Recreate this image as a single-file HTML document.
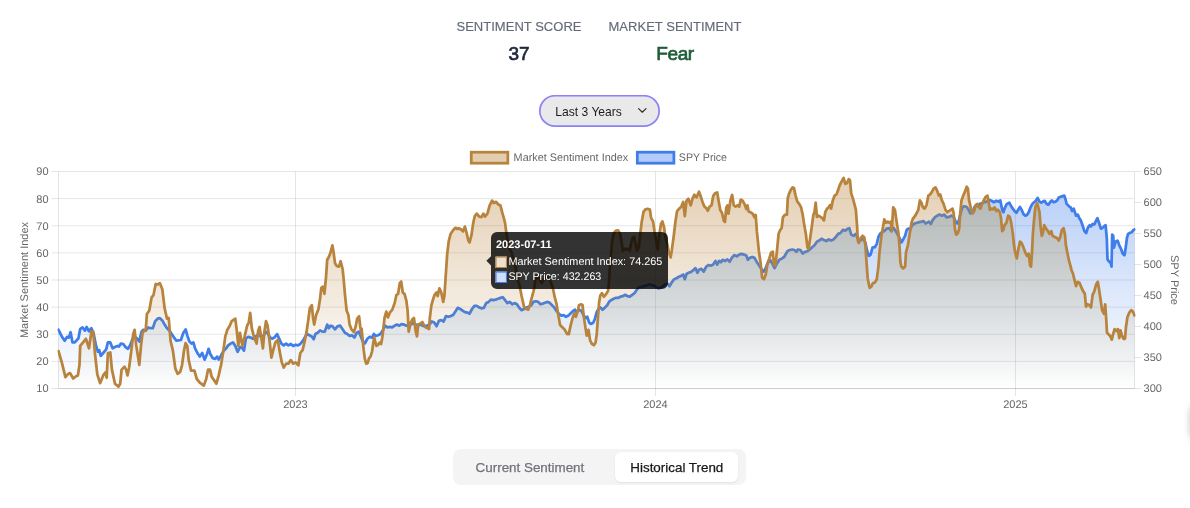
<!DOCTYPE html>
<html lang="en">
<head>
<meta charset="utf-8">
<title>Market Sentiment</title>
<style>
html,body{margin:0;padding:0;background:#fff;}
body{width:1190px;height:508px;position:relative;overflow:hidden;font-family:"Liberation Sans",Arial,sans-serif;}
.abs{position:absolute;white-space:nowrap;}
.lbl{font-size:13px;letter-spacing:0.02px;color:#636a78;-webkit-text-stroke:0.15px currentColor;line-height:16px;text-align:center;}
.val{font-size:19px;font-weight:normal;-webkit-text-stroke:0.7px currentColor;line-height:24px;text-align:center;}
.sel{left:539px;top:95px;width:121px;height:32px;}
.sel .bg{position:absolute;left:0;top:0;}
.sel span{position:absolute;left:16.3px;top:8.9px;font-size:12.1px;line-height:16px;color:#1c1c1e;}
.sel .chev{position:absolute;left:98.4px;top:11.6px;}
.tabs{left:453px;top:449px;width:293px;height:36px;border-radius:8px;background:#f4f4f5;}
.tab{font-size:13.4px;line-height:18px;-webkit-text-stroke:0.25px currentColor;}
.active{left:615px;top:452px;width:123px;height:30px;border-radius:6px;background:#fff;box-shadow:0 1px 2px rgba(0,0,0,0.08);}
.chart{position:absolute;left:0;top:0;}
.edge{left:1190px;top:406px;width:12px;height:33px;border-radius:6px;box-shadow:0 0 7px rgba(0,0,0,0.22);background:#fff;}
</style>
</head>
<body>
<div class="abs lbl" style="left:419px;width:200px;top:19px;">SENTIMENT SCORE</div>
<div class="abs val" style="left:419px;width:200px;top:42px;color:#1e293b;">37</div>
<div class="abs lbl" style="left:575px;width:200px;top:19px;">MARKET SENTIMENT</div>
<div class="abs val" style="left:575px;width:200px;top:42px;color:#1f5c38;letter-spacing:-0.4px;">Fear</div>
<div class="abs sel"><svg class="bg" width="121" height="32" viewBox="0 0 121 32"><rect x="0.85" y="0.75" width="119.3" height="30.4" rx="15.2" fill="#e9e9ea" stroke="#8a82f6" stroke-width="1.7"/></svg><span>Last 3 Years</span><svg class="chev" width="12" height="8" viewBox="0 0 12 8"><path d="M1.6,1.6L5.3,5.2L9,1.6" fill="none" stroke="#333" stroke-width="1.25" stroke-linecap="round" stroke-linejoin="round"/></svg></div>
<svg class="chart" width="1190" height="508" viewBox="0 0 1190 508">
<defs>
<linearGradient id="go" gradientUnits="userSpaceOnUse" x1="0" y1="171.5" x2="0" y2="388.5"><stop offset="0" stop-color="rgb(184,131,60)" stop-opacity="0.4"/><stop offset="1" stop-color="rgb(184,131,60)" stop-opacity="0"/></linearGradient>
<linearGradient id="gb" gradientUnits="userSpaceOnUse" x1="0" y1="171.5" x2="0" y2="388.5"><stop offset="0" stop-color="rgb(62,125,234)" stop-opacity="0.4"/><stop offset="1" stop-color="rgb(62,125,234)" stop-opacity="0"/></linearGradient>
<linearGradient id="gt" gradientUnits="userSpaceOnUse" x1="0" y1="171.5" x2="0" y2="388.5"><stop offset="0" stop-color="rgb(60,255,170)" stop-opacity="0.045"/><stop offset="1" stop-color="rgb(60,255,170)" stop-opacity="0"/></linearGradient>
<clipPath id="cb"><path d="M58.5,329.8 L61.8,336.4 L64.7,340.7 L67.0,336.9 L68.9,337.6 L70.6,332.2 L72.5,342.4 L74.8,342.4 L78.4,338.4 L80.2,328.9 L82.6,327.5 L85.0,330.6 L86.6,327.0 L89.0,331.2 L91.4,328.2 L93.7,334.1 L96.1,345.9 L98.0,351.8 L99.2,350.2 L100.8,355.8 L103.2,353.0 L106.2,349.4 L107.9,342.4 L110.3,342.4 L112.6,348.3 L115.0,347.1 L117.4,345.9 L119.0,346.6 L120.9,343.6 L123.3,344.0 L125.6,347.1 L128.0,348.8 L130.4,344.7 L132.7,338.4 L135.1,336.9 L137.4,338.8 L139.3,341.6 L141.5,331.7 L143.4,329.8 L145.7,330.6 L148.1,327.5 L150.4,328.2 L152.8,328.2 L155.2,321.1 L157.6,318.7 L159.9,318.2 L162.3,320.4 L164.6,324.6 L167.0,328.2 L169.4,330.6 L171.7,334.1 L174.1,337.6 L176.4,340.7 L180.9,340.0 L183.3,332.9 L185.6,329.4 L187.3,335.3 L189.2,341.2 L191.6,343.6 L193.4,342.4 L195.1,348.3 L197.4,353.0 L199.8,356.6 L202.2,353.0 L204.6,359.6 L206.9,354.2 L208.6,348.8 L210.4,354.2 L212.8,358.2 L215.2,358.9 L217.1,356.6 L218.7,359.6 L221.1,355.4 L223.4,351.1 L225.8,348.8 L228.2,345.4 L230.6,343.6 L232.9,342.4 L235.3,345.9 L237.6,351.8 L240.0,347.1 L242.4,348.3 L244.0,350.6 L245.9,338.4 L248.3,336.9 L250.6,337.6 L253.0,338.8 L255.4,336.9 L257.7,334.6 L260.1,336.0 L262.4,336.9 L264.8,333.6 L267.2,331.7 L269.6,336.9 L271.9,338.8 L274.3,337.6 L277.1,334.1 L279.0,338.4 L281.4,343.6 L283.7,345.4 L286.1,343.6 L288.4,345.4 L290.8,344.0 L293.2,345.9 L295.6,344.7 L297.9,345.4 L300.3,344.0 L302.6,341.2 L304.7,337.6 L307.1,334.0 L309.4,335.2 L311.8,336.4 L313.7,339.2 L315.4,334.0 L317.7,332.8 L320.1,330.4 L322.4,331.6 L324.8,331.6 L327.2,324.6 L328.8,328.1 L330.7,325.7 L332.6,326.4 L335.0,329.3 L337.4,326.4 L340.2,325.7 L342.6,329.3 L344.9,332.8 L347.3,334.0 L349.6,335.9 L352.0,335.2 L354.4,337.6 L356.7,332.8 L358.6,331.6 L360.3,335.2 L362.6,341.1 L365.0,343.4 L367.4,338.7 L369.7,336.8 L372.1,337.6 L373.8,334.0 L375.6,335.9 L378.0,335.2 L380.4,334.0 L382.7,330.4 L385.1,325.7 L387.4,327.4 L389.8,326.9 L392.2,327.4 L394.6,325.7 L396.9,324.6 L399.3,325.7 L401.6,324.1 L404.0,324.6 L406.4,325.7 L408.7,324.6 L411.1,324.1 L413.4,323.4 L415.8,324.6 L418.2,325.0 L420.6,324.6 L422.4,325.6 L424.7,326.2 L427.1,325.6 L429.4,324.8 L431.8,321.5 L434.2,322.5 L436.6,326.2 L438.9,320.8 L441.3,320.1 L443.6,321.5 L446.0,316.1 L448.4,316.8 L450.7,316.1 L453.1,314.9 L455.4,311.4 L457.8,307.8 L460.2,309.0 L462.6,310.6 L464.9,312.1 L467.3,312.6 L469.6,313.7 L472.0,309.0 L474.4,305.9 L476.7,305.9 L479.1,307.4 L481.4,308.3 L483.8,307.8 L486.2,303.1 L488.6,301.9 L490.9,299.6 L493.3,300.2 L495.6,299.6 L498.0,298.8 L500.4,297.9 L502.7,297.2 L505.1,300.2 L507.4,303.1 L509.8,301.9 L512.2,304.3 L514.5,303.1 L516.9,304.3 L519.3,307.8 L521.6,310.2 L524.0,309.0 L526.4,307.8 L528.7,306.6 L531.1,305.4 L533.5,301.9 L535.8,301.2 L538.2,301.9 L540.5,304.3 L542.9,303.6 L547.1,301.9 L549.5,302.6 L551.8,305.0 L554.2,307.4 L556.5,310.9 L558.9,313.8 L561.3,315.6 L563.6,315.2 L566.0,316.8 L568.4,315.6 L570.7,313.3 L573.1,310.9 L575.0,309.7 L576.6,312.1 L579.0,309.7 L581.4,310.9 L583.7,315.6 L586.1,318.0 L587.3,316.8 L589.2,322.7 L590.8,323.9 L593.2,322.7 L594.8,319.2 L596.7,312.1 L598.6,308.6 L600.3,307.4 L602.6,309.7 L605.0,307.4 L607.4,305.0 L609.0,301.9 L610.9,300.3 L613.3,299.1 L615.6,297.9 L618.0,297.9 L620.4,296.7 L622.7,296.2 L625.1,294.8 L627.5,296.2 L629.8,296.7 L632.2,294.8 L634.5,293.2 L636.9,289.6 L639.3,287.3 L641.6,286.8 L644.0,286.1 L646.4,285.4 L648.7,284.4 L651.1,284.9 L653.5,285.4 L655.8,286.8 L658.2,288.4 L660.5,287.8 L662.9,286.1 L665.3,284.4 L667.6,283.7 L669.5,286.3 L671.8,282.3 L674.2,279.2 L676.5,278.2 L678.9,276.8 L681.3,275.9 L683.2,274.5 L684.8,279.2 L686.5,274.0 L688.4,272.8 L690.7,272.1 L693.1,270.4 L695.5,268.1 L697.4,272.8 L699.0,269.8 L701.4,268.8 L703.7,271.6 L706.1,266.9 L708.5,265.0 L710.8,265.7 L713.2,264.6 L715.5,261.0 L717.2,264.6 L719.1,261.0 L721.0,262.2 L722.6,259.8 L725.0,261.0 L727.4,259.4 L729.7,261.7 L732.1,257.4 L734.5,255.1 L736.8,256.3 L739.2,254.6 L741.5,253.9 L743.9,254.6 L746.3,255.6 L747.9,259.8 L749.8,257.9 L752.2,257.0 L754.5,257.9 L756.9,262.2 L759.3,265.7 L761.6,269.3 L763.5,271.6 L765.2,269.3 L767.5,263.4 L769.9,259.8 L772.3,263.4 L774.6,268.1 L777.0,263.4 L779.4,259.8 L781.7,258.6 L784.1,257.0 L787.4,251.2 L789.7,250.0 L792.1,249.5 L794.5,250.0 L796.4,251.9 L798.0,249.5 L800.4,250.0 L802.7,253.6 L805.1,251.9 L807.5,251.2 L809.8,249.5 L812.2,247.2 L814.5,245.3 L816.9,241.7 L819.3,240.6 L821.6,238.7 L824.0,240.1 L826.4,241.0 L828.7,239.4 L831.1,240.6 L833.5,239.4 L835.8,237.0 L838.2,233.9 L840.5,233.0 L842.9,229.9 L845.3,230.6 L847.6,228.7 L849.3,228.2 L851.2,234.6 L853.5,235.8 L855.9,233.9 L858.3,239.4 L860.6,240.6 L863.0,238.2 L865.4,242.9 L867.2,251.2 L868.9,255.9 L870.6,254.7 L872.5,247.6 L874.8,247.2 L876.7,244.1 L878.4,237.0 L880.0,233.9 L881.9,232.3 L884.3,231.1 L886.6,228.7 L889.0,228.2 L891.4,231.1 L893.2,227.6 L894.9,229.9 L897.3,233.9 L899.6,238.2 L901.3,242.4 L903.2,239.4 L905.1,235.8 L906.7,229.9 L908.4,228.7 L910.3,229.2 L912.2,225.2 L914.7,223.5 L917.1,222.8 L919.5,222.1 L921.8,221.6 L923.7,221.2 L925.4,223.5 L927.0,222.8 L928.9,221.6 L930.8,224.0 L932.5,220.4 L934.8,217.4 L937.2,215.7 L939.5,214.6 L941.9,215.7 L944.3,214.6 L946.6,217.4 L949.0,216.9 L951.4,215.7 L953.7,216.9 L956.1,222.8 L957.8,223.5 L959.2,219.3 L960.8,212.2 L962.5,207.4 L964.4,206.3 L966.7,207.0 L968.6,209.8 L970.3,213.4 L972.6,212.7 L974.3,207.4 L976.2,205.1 L978.1,206.3 L979.7,203.9 L982.1,203.2 L984.5,202.2 L986.8,201.6 L989.2,199.9 L991.5,200.8 L993.9,202.2 L996.3,200.8 L998.6,201.6 L1000.3,200.4 L1002.2,209.8 L1003.4,212.2 L1005.0,207.4 L1006.9,203.9 L1009.3,202.7 L1011.2,206.3 L1012.8,208.6 L1014.5,211.0 L1016.4,212.7 L1018.2,209.8 L1019.9,207.0 L1021.6,209.8 L1023.5,214.1 L1025.3,215.7 L1027.0,215.0 L1028.7,212.2 L1030.5,207.4 L1032.4,203.9 L1034.1,202.2 L1035.8,200.8 L1037.6,198.0 L1039.5,201.6 L1041.3,202.7 L1043.0,201.6 L1044.7,200.8 L1046.5,203.9 L1048.4,204.6 L1050.1,202.2 L1051.8,200.4 L1053.6,202.2 L1055.5,201.6 L1057.2,200.4 L1058.8,197.5 L1060.7,196.8 L1062.6,196.1 L1064.3,195.6 L1065.5,199.2 L1066.6,203.9 L1069.0,206.3 L1070.7,207.4 L1072.1,211.0 L1073.7,208.6 L1074.9,212.2 L1076.1,215.7 L1077.8,214.6 L1079.2,218.1 L1080.8,220.4 L1082.5,225.2 L1084.4,231.1 L1086.2,233.0 L1087.9,227.6 L1089.6,225.2 L1091.0,226.4 L1092.6,224.0 L1094.3,224.5 L1096.2,220.4 L1097.4,218.1 L1099.0,222.8 L1100.9,228.7 L1102.8,227.6 L1104.5,225.9 L1105.6,225.2 L1106.8,238.2 L1107.5,259.4 L1109.2,261.8 L1110.8,263.0 L1111.5,266.6 L1112.2,234.6 L1113.2,235.8 L1113.9,247.6 L1115.6,241.7 L1117.5,240.6 L1119.3,245.3 L1121.0,248.8 L1122.7,253.6 L1124.5,255.2 L1125.7,247.6 L1126.9,238.2 L1128.1,233.9 L1129.8,233.0 L1131.6,232.3 L1133.5,229.9 L1134.5,229.4 L1134.5,388.5 L58.5,388.5 Z"/></clipPath>
<clipPath id="cp"><rect x="57.5" y="170.5" width="1078.0" height="219.0"/></clipPath>
</defs>
<path d="M51.5,171.50H1134.5 M51.5,198.62H1134.5 M51.5,225.75H1134.5 M51.5,252.88H1134.5 M51.5,280.00H1134.5 M51.5,307.12H1134.5 M51.5,334.25H1134.5 M51.5,361.38H1134.5 M51.5,388.50H1134.5 M295.5,171.5V396.0 M655.5,171.5V396.0 M1015.5,171.5V396.0 M58.5,171.5V388.5 M1134.5,171.5V388.5 M1134.5,171.50h6.5 M1134.5,202.50h6.5 M1134.5,233.50h6.5 M1134.5,264.50h6.5 M1134.5,295.50h6.5 M1134.5,326.50h6.5 M1134.5,357.50h6.5 M1134.5,388.50h6.5" stroke="#000" stroke-opacity="0.1" stroke-width="1" fill="none"/>
<path d="M58.5,388.5H1134.5" stroke="#000" stroke-opacity="0.1" stroke-width="1" fill="none"/>
<g clip-path="url(#cp)">
<path d="M58.5,329.8 L61.8,336.4 L64.7,340.7 L67.0,336.9 L68.9,337.6 L70.6,332.2 L72.5,342.4 L74.8,342.4 L78.4,338.4 L80.2,328.9 L82.6,327.5 L85.0,330.6 L86.6,327.0 L89.0,331.2 L91.4,328.2 L93.7,334.1 L96.1,345.9 L98.0,351.8 L99.2,350.2 L100.8,355.8 L103.2,353.0 L106.2,349.4 L107.9,342.4 L110.3,342.4 L112.6,348.3 L115.0,347.1 L117.4,345.9 L119.0,346.6 L120.9,343.6 L123.3,344.0 L125.6,347.1 L128.0,348.8 L130.4,344.7 L132.7,338.4 L135.1,336.9 L137.4,338.8 L139.3,341.6 L141.5,331.7 L143.4,329.8 L145.7,330.6 L148.1,327.5 L150.4,328.2 L152.8,328.2 L155.2,321.1 L157.6,318.7 L159.9,318.2 L162.3,320.4 L164.6,324.6 L167.0,328.2 L169.4,330.6 L171.7,334.1 L174.1,337.6 L176.4,340.7 L180.9,340.0 L183.3,332.9 L185.6,329.4 L187.3,335.3 L189.2,341.2 L191.6,343.6 L193.4,342.4 L195.1,348.3 L197.4,353.0 L199.8,356.6 L202.2,353.0 L204.6,359.6 L206.9,354.2 L208.6,348.8 L210.4,354.2 L212.8,358.2 L215.2,358.9 L217.1,356.6 L218.7,359.6 L221.1,355.4 L223.4,351.1 L225.8,348.8 L228.2,345.4 L230.6,343.6 L232.9,342.4 L235.3,345.9 L237.6,351.8 L240.0,347.1 L242.4,348.3 L244.0,350.6 L245.9,338.4 L248.3,336.9 L250.6,337.6 L253.0,338.8 L255.4,336.9 L257.7,334.6 L260.1,336.0 L262.4,336.9 L264.8,333.6 L267.2,331.7 L269.6,336.9 L271.9,338.8 L274.3,337.6 L277.1,334.1 L279.0,338.4 L281.4,343.6 L283.7,345.4 L286.1,343.6 L288.4,345.4 L290.8,344.0 L293.2,345.9 L295.6,344.7 L297.9,345.4 L300.3,344.0 L302.6,341.2 L304.7,337.6 L307.1,334.0 L309.4,335.2 L311.8,336.4 L313.7,339.2 L315.4,334.0 L317.7,332.8 L320.1,330.4 L322.4,331.6 L324.8,331.6 L327.2,324.6 L328.8,328.1 L330.7,325.7 L332.6,326.4 L335.0,329.3 L337.4,326.4 L340.2,325.7 L342.6,329.3 L344.9,332.8 L347.3,334.0 L349.6,335.9 L352.0,335.2 L354.4,337.6 L356.7,332.8 L358.6,331.6 L360.3,335.2 L362.6,341.1 L365.0,343.4 L367.4,338.7 L369.7,336.8 L372.1,337.6 L373.8,334.0 L375.6,335.9 L378.0,335.2 L380.4,334.0 L382.7,330.4 L385.1,325.7 L387.4,327.4 L389.8,326.9 L392.2,327.4 L394.6,325.7 L396.9,324.6 L399.3,325.7 L401.6,324.1 L404.0,324.6 L406.4,325.7 L408.7,324.6 L411.1,324.1 L413.4,323.4 L415.8,324.6 L418.2,325.0 L420.6,324.6 L422.4,325.6 L424.7,326.2 L427.1,325.6 L429.4,324.8 L431.8,321.5 L434.2,322.5 L436.6,326.2 L438.9,320.8 L441.3,320.1 L443.6,321.5 L446.0,316.1 L448.4,316.8 L450.7,316.1 L453.1,314.9 L455.4,311.4 L457.8,307.8 L460.2,309.0 L462.6,310.6 L464.9,312.1 L467.3,312.6 L469.6,313.7 L472.0,309.0 L474.4,305.9 L476.7,305.9 L479.1,307.4 L481.4,308.3 L483.8,307.8 L486.2,303.1 L488.6,301.9 L490.9,299.6 L493.3,300.2 L495.6,299.6 L498.0,298.8 L500.4,297.9 L502.7,297.2 L505.1,300.2 L507.4,303.1 L509.8,301.9 L512.2,304.3 L514.5,303.1 L516.9,304.3 L519.3,307.8 L521.6,310.2 L524.0,309.0 L526.4,307.8 L528.7,306.6 L531.1,305.4 L533.5,301.9 L535.8,301.2 L538.2,301.9 L540.5,304.3 L542.9,303.6 L547.1,301.9 L549.5,302.6 L551.8,305.0 L554.2,307.4 L556.5,310.9 L558.9,313.8 L561.3,315.6 L563.6,315.2 L566.0,316.8 L568.4,315.6 L570.7,313.3 L573.1,310.9 L575.0,309.7 L576.6,312.1 L579.0,309.7 L581.4,310.9 L583.7,315.6 L586.1,318.0 L587.3,316.8 L589.2,322.7 L590.8,323.9 L593.2,322.7 L594.8,319.2 L596.7,312.1 L598.6,308.6 L600.3,307.4 L602.6,309.7 L605.0,307.4 L607.4,305.0 L609.0,301.9 L610.9,300.3 L613.3,299.1 L615.6,297.9 L618.0,297.9 L620.4,296.7 L622.7,296.2 L625.1,294.8 L627.5,296.2 L629.8,296.7 L632.2,294.8 L634.5,293.2 L636.9,289.6 L639.3,287.3 L641.6,286.8 L644.0,286.1 L646.4,285.4 L648.7,284.4 L651.1,284.9 L653.5,285.4 L655.8,286.8 L658.2,288.4 L660.5,287.8 L662.9,286.1 L665.3,284.4 L667.6,283.7 L669.5,286.3 L671.8,282.3 L674.2,279.2 L676.5,278.2 L678.9,276.8 L681.3,275.9 L683.2,274.5 L684.8,279.2 L686.5,274.0 L688.4,272.8 L690.7,272.1 L693.1,270.4 L695.5,268.1 L697.4,272.8 L699.0,269.8 L701.4,268.8 L703.7,271.6 L706.1,266.9 L708.5,265.0 L710.8,265.7 L713.2,264.6 L715.5,261.0 L717.2,264.6 L719.1,261.0 L721.0,262.2 L722.6,259.8 L725.0,261.0 L727.4,259.4 L729.7,261.7 L732.1,257.4 L734.5,255.1 L736.8,256.3 L739.2,254.6 L741.5,253.9 L743.9,254.6 L746.3,255.6 L747.9,259.8 L749.8,257.9 L752.2,257.0 L754.5,257.9 L756.9,262.2 L759.3,265.7 L761.6,269.3 L763.5,271.6 L765.2,269.3 L767.5,263.4 L769.9,259.8 L772.3,263.4 L774.6,268.1 L777.0,263.4 L779.4,259.8 L781.7,258.6 L784.1,257.0 L787.4,251.2 L789.7,250.0 L792.1,249.5 L794.5,250.0 L796.4,251.9 L798.0,249.5 L800.4,250.0 L802.7,253.6 L805.1,251.9 L807.5,251.2 L809.8,249.5 L812.2,247.2 L814.5,245.3 L816.9,241.7 L819.3,240.6 L821.6,238.7 L824.0,240.1 L826.4,241.0 L828.7,239.4 L831.1,240.6 L833.5,239.4 L835.8,237.0 L838.2,233.9 L840.5,233.0 L842.9,229.9 L845.3,230.6 L847.6,228.7 L849.3,228.2 L851.2,234.6 L853.5,235.8 L855.9,233.9 L858.3,239.4 L860.6,240.6 L863.0,238.2 L865.4,242.9 L867.2,251.2 L868.9,255.9 L870.6,254.7 L872.5,247.6 L874.8,247.2 L876.7,244.1 L878.4,237.0 L880.0,233.9 L881.9,232.3 L884.3,231.1 L886.6,228.7 L889.0,228.2 L891.4,231.1 L893.2,227.6 L894.9,229.9 L897.3,233.9 L899.6,238.2 L901.3,242.4 L903.2,239.4 L905.1,235.8 L906.7,229.9 L908.4,228.7 L910.3,229.2 L912.2,225.2 L914.7,223.5 L917.1,222.8 L919.5,222.1 L921.8,221.6 L923.7,221.2 L925.4,223.5 L927.0,222.8 L928.9,221.6 L930.8,224.0 L932.5,220.4 L934.8,217.4 L937.2,215.7 L939.5,214.6 L941.9,215.7 L944.3,214.6 L946.6,217.4 L949.0,216.9 L951.4,215.7 L953.7,216.9 L956.1,222.8 L957.8,223.5 L959.2,219.3 L960.8,212.2 L962.5,207.4 L964.4,206.3 L966.7,207.0 L968.6,209.8 L970.3,213.4 L972.6,212.7 L974.3,207.4 L976.2,205.1 L978.1,206.3 L979.7,203.9 L982.1,203.2 L984.5,202.2 L986.8,201.6 L989.2,199.9 L991.5,200.8 L993.9,202.2 L996.3,200.8 L998.6,201.6 L1000.3,200.4 L1002.2,209.8 L1003.4,212.2 L1005.0,207.4 L1006.9,203.9 L1009.3,202.7 L1011.2,206.3 L1012.8,208.6 L1014.5,211.0 L1016.4,212.7 L1018.2,209.8 L1019.9,207.0 L1021.6,209.8 L1023.5,214.1 L1025.3,215.7 L1027.0,215.0 L1028.7,212.2 L1030.5,207.4 L1032.4,203.9 L1034.1,202.2 L1035.8,200.8 L1037.6,198.0 L1039.5,201.6 L1041.3,202.7 L1043.0,201.6 L1044.7,200.8 L1046.5,203.9 L1048.4,204.6 L1050.1,202.2 L1051.8,200.4 L1053.6,202.2 L1055.5,201.6 L1057.2,200.4 L1058.8,197.5 L1060.7,196.8 L1062.6,196.1 L1064.3,195.6 L1065.5,199.2 L1066.6,203.9 L1069.0,206.3 L1070.7,207.4 L1072.1,211.0 L1073.7,208.6 L1074.9,212.2 L1076.1,215.7 L1077.8,214.6 L1079.2,218.1 L1080.8,220.4 L1082.5,225.2 L1084.4,231.1 L1086.2,233.0 L1087.9,227.6 L1089.6,225.2 L1091.0,226.4 L1092.6,224.0 L1094.3,224.5 L1096.2,220.4 L1097.4,218.1 L1099.0,222.8 L1100.9,228.7 L1102.8,227.6 L1104.5,225.9 L1105.6,225.2 L1106.8,238.2 L1107.5,259.4 L1109.2,261.8 L1110.8,263.0 L1111.5,266.6 L1112.2,234.6 L1113.2,235.8 L1113.9,247.6 L1115.6,241.7 L1117.5,240.6 L1119.3,245.3 L1121.0,248.8 L1122.7,253.6 L1124.5,255.2 L1125.7,247.6 L1126.9,238.2 L1128.1,233.9 L1129.8,233.0 L1131.6,232.3 L1133.5,229.9 L1134.5,229.4 L1134.5,388.5 L58.5,388.5 Z" fill="url(#gb)"/>
<path d="M58.5,329.8 L61.8,336.4 L64.7,340.7 L67.0,336.9 L68.9,337.6 L70.6,332.2 L72.5,342.4 L74.8,342.4 L78.4,338.4 L80.2,328.9 L82.6,327.5 L85.0,330.6 L86.6,327.0 L89.0,331.2 L91.4,328.2 L93.7,334.1 L96.1,345.9 L98.0,351.8 L99.2,350.2 L100.8,355.8 L103.2,353.0 L106.2,349.4 L107.9,342.4 L110.3,342.4 L112.6,348.3 L115.0,347.1 L117.4,345.9 L119.0,346.6 L120.9,343.6 L123.3,344.0 L125.6,347.1 L128.0,348.8 L130.4,344.7 L132.7,338.4 L135.1,336.9 L137.4,338.8 L139.3,341.6 L141.5,331.7 L143.4,329.8 L145.7,330.6 L148.1,327.5 L150.4,328.2 L152.8,328.2 L155.2,321.1 L157.6,318.7 L159.9,318.2 L162.3,320.4 L164.6,324.6 L167.0,328.2 L169.4,330.6 L171.7,334.1 L174.1,337.6 L176.4,340.7 L180.9,340.0 L183.3,332.9 L185.6,329.4 L187.3,335.3 L189.2,341.2 L191.6,343.6 L193.4,342.4 L195.1,348.3 L197.4,353.0 L199.8,356.6 L202.2,353.0 L204.6,359.6 L206.9,354.2 L208.6,348.8 L210.4,354.2 L212.8,358.2 L215.2,358.9 L217.1,356.6 L218.7,359.6 L221.1,355.4 L223.4,351.1 L225.8,348.8 L228.2,345.4 L230.6,343.6 L232.9,342.4 L235.3,345.9 L237.6,351.8 L240.0,347.1 L242.4,348.3 L244.0,350.6 L245.9,338.4 L248.3,336.9 L250.6,337.6 L253.0,338.8 L255.4,336.9 L257.7,334.6 L260.1,336.0 L262.4,336.9 L264.8,333.6 L267.2,331.7 L269.6,336.9 L271.9,338.8 L274.3,337.6 L277.1,334.1 L279.0,338.4 L281.4,343.6 L283.7,345.4 L286.1,343.6 L288.4,345.4 L290.8,344.0 L293.2,345.9 L295.6,344.7 L297.9,345.4 L300.3,344.0 L302.6,341.2 L304.7,337.6 L307.1,334.0 L309.4,335.2 L311.8,336.4 L313.7,339.2 L315.4,334.0 L317.7,332.8 L320.1,330.4 L322.4,331.6 L324.8,331.6 L327.2,324.6 L328.8,328.1 L330.7,325.7 L332.6,326.4 L335.0,329.3 L337.4,326.4 L340.2,325.7 L342.6,329.3 L344.9,332.8 L347.3,334.0 L349.6,335.9 L352.0,335.2 L354.4,337.6 L356.7,332.8 L358.6,331.6 L360.3,335.2 L362.6,341.1 L365.0,343.4 L367.4,338.7 L369.7,336.8 L372.1,337.6 L373.8,334.0 L375.6,335.9 L378.0,335.2 L380.4,334.0 L382.7,330.4 L385.1,325.7 L387.4,327.4 L389.8,326.9 L392.2,327.4 L394.6,325.7 L396.9,324.6 L399.3,325.7 L401.6,324.1 L404.0,324.6 L406.4,325.7 L408.7,324.6 L411.1,324.1 L413.4,323.4 L415.8,324.6 L418.2,325.0 L420.6,324.6 L422.4,325.6 L424.7,326.2 L427.1,325.6 L429.4,324.8 L431.8,321.5 L434.2,322.5 L436.6,326.2 L438.9,320.8 L441.3,320.1 L443.6,321.5 L446.0,316.1 L448.4,316.8 L450.7,316.1 L453.1,314.9 L455.4,311.4 L457.8,307.8 L460.2,309.0 L462.6,310.6 L464.9,312.1 L467.3,312.6 L469.6,313.7 L472.0,309.0 L474.4,305.9 L476.7,305.9 L479.1,307.4 L481.4,308.3 L483.8,307.8 L486.2,303.1 L488.6,301.9 L490.9,299.6 L493.3,300.2 L495.6,299.6 L498.0,298.8 L500.4,297.9 L502.7,297.2 L505.1,300.2 L507.4,303.1 L509.8,301.9 L512.2,304.3 L514.5,303.1 L516.9,304.3 L519.3,307.8 L521.6,310.2 L524.0,309.0 L526.4,307.8 L528.7,306.6 L531.1,305.4 L533.5,301.9 L535.8,301.2 L538.2,301.9 L540.5,304.3 L542.9,303.6 L547.1,301.9 L549.5,302.6 L551.8,305.0 L554.2,307.4 L556.5,310.9 L558.9,313.8 L561.3,315.6 L563.6,315.2 L566.0,316.8 L568.4,315.6 L570.7,313.3 L573.1,310.9 L575.0,309.7 L576.6,312.1 L579.0,309.7 L581.4,310.9 L583.7,315.6 L586.1,318.0 L587.3,316.8 L589.2,322.7 L590.8,323.9 L593.2,322.7 L594.8,319.2 L596.7,312.1 L598.6,308.6 L600.3,307.4 L602.6,309.7 L605.0,307.4 L607.4,305.0 L609.0,301.9 L610.9,300.3 L613.3,299.1 L615.6,297.9 L618.0,297.9 L620.4,296.7 L622.7,296.2 L625.1,294.8 L627.5,296.2 L629.8,296.7 L632.2,294.8 L634.5,293.2 L636.9,289.6 L639.3,287.3 L641.6,286.8 L644.0,286.1 L646.4,285.4 L648.7,284.4 L651.1,284.9 L653.5,285.4 L655.8,286.8 L658.2,288.4 L660.5,287.8 L662.9,286.1 L665.3,284.4 L667.6,283.7 L669.5,286.3 L671.8,282.3 L674.2,279.2 L676.5,278.2 L678.9,276.8 L681.3,275.9 L683.2,274.5 L684.8,279.2 L686.5,274.0 L688.4,272.8 L690.7,272.1 L693.1,270.4 L695.5,268.1 L697.4,272.8 L699.0,269.8 L701.4,268.8 L703.7,271.6 L706.1,266.9 L708.5,265.0 L710.8,265.7 L713.2,264.6 L715.5,261.0 L717.2,264.6 L719.1,261.0 L721.0,262.2 L722.6,259.8 L725.0,261.0 L727.4,259.4 L729.7,261.7 L732.1,257.4 L734.5,255.1 L736.8,256.3 L739.2,254.6 L741.5,253.9 L743.9,254.6 L746.3,255.6 L747.9,259.8 L749.8,257.9 L752.2,257.0 L754.5,257.9 L756.9,262.2 L759.3,265.7 L761.6,269.3 L763.5,271.6 L765.2,269.3 L767.5,263.4 L769.9,259.8 L772.3,263.4 L774.6,268.1 L777.0,263.4 L779.4,259.8 L781.7,258.6 L784.1,257.0 L787.4,251.2 L789.7,250.0 L792.1,249.5 L794.5,250.0 L796.4,251.9 L798.0,249.5 L800.4,250.0 L802.7,253.6 L805.1,251.9 L807.5,251.2 L809.8,249.5 L812.2,247.2 L814.5,245.3 L816.9,241.7 L819.3,240.6 L821.6,238.7 L824.0,240.1 L826.4,241.0 L828.7,239.4 L831.1,240.6 L833.5,239.4 L835.8,237.0 L838.2,233.9 L840.5,233.0 L842.9,229.9 L845.3,230.6 L847.6,228.7 L849.3,228.2 L851.2,234.6 L853.5,235.8 L855.9,233.9 L858.3,239.4 L860.6,240.6 L863.0,238.2 L865.4,242.9 L867.2,251.2 L868.9,255.9 L870.6,254.7 L872.5,247.6 L874.8,247.2 L876.7,244.1 L878.4,237.0 L880.0,233.9 L881.9,232.3 L884.3,231.1 L886.6,228.7 L889.0,228.2 L891.4,231.1 L893.2,227.6 L894.9,229.9 L897.3,233.9 L899.6,238.2 L901.3,242.4 L903.2,239.4 L905.1,235.8 L906.7,229.9 L908.4,228.7 L910.3,229.2 L912.2,225.2 L914.7,223.5 L917.1,222.8 L919.5,222.1 L921.8,221.6 L923.7,221.2 L925.4,223.5 L927.0,222.8 L928.9,221.6 L930.8,224.0 L932.5,220.4 L934.8,217.4 L937.2,215.7 L939.5,214.6 L941.9,215.7 L944.3,214.6 L946.6,217.4 L949.0,216.9 L951.4,215.7 L953.7,216.9 L956.1,222.8 L957.8,223.5 L959.2,219.3 L960.8,212.2 L962.5,207.4 L964.4,206.3 L966.7,207.0 L968.6,209.8 L970.3,213.4 L972.6,212.7 L974.3,207.4 L976.2,205.1 L978.1,206.3 L979.7,203.9 L982.1,203.2 L984.5,202.2 L986.8,201.6 L989.2,199.9 L991.5,200.8 L993.9,202.2 L996.3,200.8 L998.6,201.6 L1000.3,200.4 L1002.2,209.8 L1003.4,212.2 L1005.0,207.4 L1006.9,203.9 L1009.3,202.7 L1011.2,206.3 L1012.8,208.6 L1014.5,211.0 L1016.4,212.7 L1018.2,209.8 L1019.9,207.0 L1021.6,209.8 L1023.5,214.1 L1025.3,215.7 L1027.0,215.0 L1028.7,212.2 L1030.5,207.4 L1032.4,203.9 L1034.1,202.2 L1035.8,200.8 L1037.6,198.0 L1039.5,201.6 L1041.3,202.7 L1043.0,201.6 L1044.7,200.8 L1046.5,203.9 L1048.4,204.6 L1050.1,202.2 L1051.8,200.4 L1053.6,202.2 L1055.5,201.6 L1057.2,200.4 L1058.8,197.5 L1060.7,196.8 L1062.6,196.1 L1064.3,195.6 L1065.5,199.2 L1066.6,203.9 L1069.0,206.3 L1070.7,207.4 L1072.1,211.0 L1073.7,208.6 L1074.9,212.2 L1076.1,215.7 L1077.8,214.6 L1079.2,218.1 L1080.8,220.4 L1082.5,225.2 L1084.4,231.1 L1086.2,233.0 L1087.9,227.6 L1089.6,225.2 L1091.0,226.4 L1092.6,224.0 L1094.3,224.5 L1096.2,220.4 L1097.4,218.1 L1099.0,222.8 L1100.9,228.7 L1102.8,227.6 L1104.5,225.9 L1105.6,225.2 L1106.8,238.2 L1107.5,259.4 L1109.2,261.8 L1110.8,263.0 L1111.5,266.6 L1112.2,234.6 L1113.2,235.8 L1113.9,247.6 L1115.6,241.7 L1117.5,240.6 L1119.3,245.3 L1121.0,248.8 L1122.7,253.6 L1124.5,255.2 L1125.7,247.6 L1126.9,238.2 L1128.1,233.9 L1129.8,233.0 L1131.6,232.3 L1133.5,229.9 L1134.5,229.4" fill="none" stroke="rgb(62,125,234)" stroke-width="2.75" stroke-linejoin="round" stroke-linecap="round"/>
<path d="M58.5,351.1 L61.8,362.4 L65.4,377.1 L67.7,374.3 L70.1,373.1 L73.2,378.5 L76.0,376.2 L77.9,375.4 L79.5,364.8 L80.2,345.9 L83.1,342.4 L85.9,338.8 L89.0,348.3 L91.4,331.7 L93.2,331.7 L94.9,353.0 L97.3,374.3 L100.1,383.2 L103.2,375.4 L105.5,372.4 L106.7,377.8 L107.9,353.0 L110.3,352.5 L111.9,369.6 L115.0,383.7 L118.5,386.6 L120.2,383.7 L121.6,369.6 L124.5,366.7 L126.1,369.6 L127.5,375.4 L129.2,367.2 L131.6,348.3 L133.2,334.1 L134.6,329.8 L136.3,345.9 L139.3,364.8 L141.0,345.9 L142.7,331.7 L145.7,330.6 L146.9,314.0 L149.3,310.4 L151.6,297.4 L153.5,295.1 L155.7,284.0 L157.6,284.4 L159.9,283.3 L162.3,289.2 L164.6,308.1 L167.0,318.7 L168.7,318.0 L170.6,341.2 L172.9,350.6 L175.3,368.4 L177.6,373.8 L180.2,371.9 L182.1,364.8 L184.0,350.6 L185.6,343.1 L187.3,345.9 L188.7,360.1 L191.1,370.7 L194.4,370.7 L196.8,379.0 L199.8,382.6 L203.8,385.6 L206.2,379.0 L208.1,369.6 L210.0,369.6 L211.6,376.6 L214.0,380.2 L216.4,383.7 L218.7,375.4 L221.1,364.8 L223.4,350.6 L225.3,336.4 L227.5,329.4 L229.8,325.8 L231.7,321.1 L235.3,318.7 L236.9,331.7 L238.3,345.9 L240.0,332.9 L242.4,345.9 L244.7,336.4 L247.1,325.8 L248.8,322.3 L250.2,312.8 L251.8,328.2 L254.2,337.6 L256.6,343.6 L258.2,330.6 L259.6,327.0 L261.3,337.6 L262.9,348.3 L264.4,331.7 L266.0,321.1 L267.6,325.8 L269.6,341.2 L271.4,357.7 L273.1,350.6 L275.4,342.4 L277.8,340.0 L279.5,350.6 L281.8,362.4 L283.7,367.6 L286.1,363.6 L288.4,363.6 L290.8,360.1 L293.2,363.6 L295.6,362.4 L298.4,365.3 L300.3,353.0 L302.6,350.2 L304.7,341.1 L306.6,331.6 L308.3,319.8 L309.9,308.0 L311.8,305.2 L313.0,317.4 L314.2,324.6 L316.1,315.1 L318.4,309.2 L320.1,298.6 L321.3,287.9 L322.9,286.7 L324.4,293.8 L326.0,277.3 L327.2,259.6 L328.4,257.9 L330.2,253.6 L332.4,245.4 L333.6,252.4 L335.0,263.1 L336.6,265.9 L339.0,266.6 L340.6,261.2 L342.6,269.0 L343.7,279.6 L344.9,293.8 L346.6,310.4 L348.4,315.1 L349.6,324.6 L351.5,329.3 L353.9,332.1 L355.6,326.9 L357.2,318.6 L359.1,316.3 L360.3,326.9 L361.4,334.0 L361.6,328.7 L362.6,338.9 L363.6,349.1 L364.8,358.6 L366.2,363.7 L367.7,363.0 L368.9,358.6 L370.6,356.4 L372.1,351.3 L373.2,343.3 L374.2,337.5 L375.3,341.9 L376.4,345.9 L378.2,344.8 L379.6,342.6 L381.1,344.0 L382.3,337.5 L383.4,328.7 L384.6,317.4 L386.3,311.6 L387.9,317.4 L389.8,312.7 L392.2,309.9 L394.6,303.3 L396.4,295.0 L398.1,293.8 L399.8,283.2 L401.2,281.5 L402.8,292.6 L404.5,293.8 L406.4,300.9 L407.6,310.4 L408.7,331.6 L410.6,323.4 L412.3,319.4 L413.9,317.9 L415.8,331.6 L417.0,336.4 L418.2,324.6 L420.6,323.4 L422.4,322.0 L424.7,326.7 L427.1,327.9 L429.0,329.1 L429.9,317.3 L431.4,305.4 L433.0,299.6 L434.6,294.8 L436.6,292.4 L437.7,296.0 L439.4,288.4 L441.3,292.4 L443.2,301.9 L444.4,296.0 L445.5,279.4 L447.2,253.8 L448.8,240.8 L450.7,233.7 L453.1,230.2 L455.4,227.8 L457.4,229.0 L459.0,228.3 L461.4,229.7 L463.0,231.4 L464.9,226.6 L466.8,233.7 L468.4,240.8 L469.6,242.5 L471.5,234.9 L473.2,223.1 L474.8,216.0 L476.7,213.6 L479.1,216.5 L481.4,217.2 L483.4,213.6 L485.0,216.5 L487.4,213.6 L489.7,205.4 L492.1,200.6 L493.8,203.0 L496.1,201.8 L498.0,204.2 L500.4,205.4 L502.2,212.4 L503.9,218.4 L505.1,223.1 L506.3,232.6 L507.9,243.2 L509.8,249.1 L511.7,252.6 L513.4,258.6 L515.7,268.0 L518.1,281.0 L519.3,284.2 L521.6,296.0 L524.0,306.6 L526.4,309.0 L528.2,309.7 L529.9,305.4 L531.6,298.4 L533.5,291.3 L534.6,286.6 L535.3,280.0 L537.0,276.0 L539.5,279.0 L541.7,283.0 L544.0,279.0 L547.0,276.5 L549.5,279.0 L551.5,284.0 L553.0,288.4 L554.6,296.7 L556.5,303.8 L558.4,315.6 L560.1,325.1 L562.5,327.4 L564.8,329.8 L567.2,334.1 L568.8,334.1 L570.7,325.1 L572.6,318.0 L574.3,313.3 L575.9,316.8 L577.8,310.9 L579.0,305.0 L581.4,304.3 L582.5,305.0 L583.7,315.6 L585.4,327.4 L586.8,335.7 L588.5,329.8 L590.1,340.4 L592.0,344.0 L593.9,345.2 L595.5,342.8 L596.7,334.6 L597.9,318.0 L599.1,302.6 L600.3,295.6 L601.9,293.2 L603.8,296.7 L605.0,295.6 L606.6,293.2 L608.1,290.8 L609.0,282.6 L609.7,269.8 L610.9,255.6 L612.1,241.4 L613.8,233.2 L615.6,230.8 L618.0,230.3 L619.9,233.2 L621.5,241.4 L622.7,250.9 L624.6,248.6 L626.3,249.7 L627.9,248.6 L629.8,250.9 L631.0,243.8 L632.6,237.9 L634.1,236.7 L635.7,243.8 L636.9,250.9 L638.8,247.4 L640.5,232.0 L641.6,222.6 L643.5,211.9 L645.2,209.6 L647.5,208.8 L649.9,209.6 L651.1,217.8 L653.0,221.4 L654.6,232.0 L656.3,241.4 L657.7,249.7 L659.4,234.4 L661.0,223.7 L662.4,221.4 L664.1,227.3 L665.3,236.7 L667.2,243.8 L669.0,252.7 L670.6,257.4 L671.8,250.4 L673.7,236.2 L675.4,222.0 L677.0,211.4 L678.9,209.0 L681.3,206.6 L683.2,201.9 L684.8,216.1 L686.5,200.7 L688.4,198.8 L690.7,205.4 L692.6,198.4 L694.3,194.8 L696.6,197.2 L699.0,191.8 L700.6,196.0 L702.5,201.9 L704.4,206.6 L706.1,207.8 L707.8,210.7 L709.6,206.6 L711.5,205.4 L713.2,196.0 L714.8,193.6 L717.2,192.4 L718.6,200.7 L720.3,210.2 L721.9,212.6 L723.8,220.8 L725.0,222.0 L726.2,207.8 L727.4,205.4 L728.5,213.7 L730.4,200.7 L732.1,194.8 L733.8,205.4 L735.6,206.6 L737.5,205.4 L739.2,206.6 L740.8,199.6 L742.7,200.7 L744.6,204.3 L746.3,209.0 L747.5,205.4 L748.6,211.4 L751.0,212.6 L752.6,213.7 L754.5,217.3 L755.7,214.9 L756.9,231.4 L758.8,250.4 L760.5,262.2 L762.1,277.6 L764.0,279.2 L765.9,274.0 L767.5,263.4 L769.2,258.6 L771.1,252.7 L772.8,251.6 L773.9,264.6 L775.4,265.7 L777.0,250.4 L778.6,233.8 L780.1,230.3 L781.7,227.9 L782.9,217.3 L784.8,214.9 L786.9,214.6 L787.8,198.0 L789.2,193.3 L790.9,189.7 L792.6,187.4 L794.0,188.1 L795.6,195.6 L797.3,201.6 L799.2,203.9 L801.1,207.4 L802.7,214.6 L803.9,222.8 L805.8,233.4 L807.5,247.6 L808.6,248.8 L809.8,240.6 L811.5,228.7 L813.4,214.6 L814.5,212.2 L815.7,202.7 L816.9,216.9 L818.6,215.7 L820.5,216.9 L822.4,218.1 L824.0,220.4 L825.2,212.2 L827.1,208.6 L828.7,207.4 L829.9,205.1 L831.1,208.6 L832.8,200.4 L834.6,195.6 L836.5,194.4 L838.2,189.7 L839.8,185.0 L841.7,181.4 L843.6,177.9 L845.3,183.8 L846.9,183.3 L848.8,179.1 L850.0,180.3 L851.2,193.3 L853.1,199.2 L854.7,205.1 L855.9,209.8 L857.1,226.4 L857.8,240.6 L858.8,242.9 L860.6,238.2 L862.5,235.8 L864.2,237.0 L865.4,245.3 L866.5,261.8 L867.7,278.4 L869.6,287.8 L871.3,286.6 L872.9,283.1 L874.8,282.6 L876.7,279.6 L878.4,266.6 L879.5,252.4 L881.4,235.8 L883.1,226.4 L884.3,219.3 L886.2,222.8 L887.8,221.6 L889.5,222.8 L890.9,221.6 L891.8,231.1 L893.2,207.4 L894.9,209.8 L896.6,221.6 L898.5,233.4 L899.6,247.6 L900.4,261.8 L901.3,266.6 L903.2,268.4 L905.1,266.6 L906.0,252.4 L907.9,245.3 L909.8,233.4 L911.5,222.8 L913.1,218.1 L913.5,218.1 L915.9,214.6 L918.3,209.8 L919.9,200.4 L921.4,202.7 L923.0,207.4 L924.6,208.6 L926.5,205.1 L928.4,195.6 L930.1,194.4 L931.8,192.1 L933.6,188.6 L935.5,187.4 L937.2,190.9 L938.8,195.6 L940.2,194.4 L941.9,200.4 L943.6,203.9 L945.5,209.8 L947.4,212.2 L949.0,211.0 L950.6,209.8 L952.5,208.6 L953.7,213.4 L954.9,228.7 L956.1,234.6 L957.8,233.4 L959.2,228.7 L960.1,214.6 L961.5,200.4 L963.2,195.6 L964.8,192.1 L966.7,186.7 L967.9,188.6 L969.1,200.4 L971.0,208.6 L972.6,213.4 L974.3,211.0 L975.7,205.1 L977.4,203.9 L979.0,207.4 L980.4,208.6 L982.1,203.9 L983.8,200.4 L985.6,196.8 L987.5,195.6 L988.5,201.6 L989.9,209.8 L991.5,208.6 L993.2,209.3 L994.6,207.4 L996.3,211.0 L997.9,209.8 L999.8,212.2 L1001.0,218.1 L1002.2,231.1 L1003.4,229.9 L1004.5,225.2 L1006.4,222.8 L1008.1,215.7 L1009.8,216.9 L1011.2,222.8 L1012.8,233.4 L1014.0,245.3 L1015.2,252.4 L1016.8,258.3 L1018.2,250.0 L1019.9,241.7 L1021.6,242.9 L1023.5,247.6 L1025.3,252.4 L1027.0,255.9 L1028.7,253.6 L1030.1,265.4 L1031.0,266.6 L1032.0,252.4 L1032.9,233.4 L1034.1,219.3 L1035.3,207.4 L1037.2,203.2 L1039.5,212.2 L1040.6,226.4 L1041.8,235.8 L1043.0,232.3 L1044.2,225.2 L1046.1,228.7 L1047.7,230.6 L1049.4,233.9 L1051.3,231.1 L1052.5,235.8 L1054.8,237.0 L1057.2,238.2 L1058.8,240.6 L1060.2,237.0 L1061.9,229.9 L1063.6,228.2 L1065.0,234.6 L1065.9,245.3 L1067.3,252.4 L1069.0,260.6 L1070.7,266.6 L1071.4,270.0 L1073.0,273.6 L1074.4,279.4 L1076.1,286.1 L1077.8,281.8 L1079.6,283.0 L1081.5,287.7 L1083.2,291.3 L1084.8,293.6 L1086.0,306.6 L1087.9,304.3 L1089.6,305.4 L1091.0,307.4 L1092.6,294.8 L1094.3,291.3 L1096.2,284.2 L1097.8,281.8 L1099.0,288.9 L1100.4,298.4 L1102.1,310.2 L1103.8,313.7 L1105.2,304.3 L1106.1,317.3 L1107.0,332.6 L1108.5,334.3 L1110.4,336.2 L1111.8,339.7 L1113.2,333.8 L1114.6,329.1 L1116.3,331.0 L1117.9,329.1 L1119.3,338.1 L1120.5,330.3 L1122.2,336.2 L1123.6,339.0 L1125.0,338.6 L1126.0,326.7 L1127.4,317.3 L1129.3,312.6 L1131.2,310.2 L1132.8,311.4 L1134.5,315.4 L1134.5,388.5 L58.5,388.5 Z" fill="url(#go)"/>
<path d="M58.5,351.1 L61.8,362.4 L65.4,377.1 L67.7,374.3 L70.1,373.1 L73.2,378.5 L76.0,376.2 L77.9,375.4 L79.5,364.8 L80.2,345.9 L83.1,342.4 L85.9,338.8 L89.0,348.3 L91.4,331.7 L93.2,331.7 L94.9,353.0 L97.3,374.3 L100.1,383.2 L103.2,375.4 L105.5,372.4 L106.7,377.8 L107.9,353.0 L110.3,352.5 L111.9,369.6 L115.0,383.7 L118.5,386.6 L120.2,383.7 L121.6,369.6 L124.5,366.7 L126.1,369.6 L127.5,375.4 L129.2,367.2 L131.6,348.3 L133.2,334.1 L134.6,329.8 L136.3,345.9 L139.3,364.8 L141.0,345.9 L142.7,331.7 L145.7,330.6 L146.9,314.0 L149.3,310.4 L151.6,297.4 L153.5,295.1 L155.7,284.0 L157.6,284.4 L159.9,283.3 L162.3,289.2 L164.6,308.1 L167.0,318.7 L168.7,318.0 L170.6,341.2 L172.9,350.6 L175.3,368.4 L177.6,373.8 L180.2,371.9 L182.1,364.8 L184.0,350.6 L185.6,343.1 L187.3,345.9 L188.7,360.1 L191.1,370.7 L194.4,370.7 L196.8,379.0 L199.8,382.6 L203.8,385.6 L206.2,379.0 L208.1,369.6 L210.0,369.6 L211.6,376.6 L214.0,380.2 L216.4,383.7 L218.7,375.4 L221.1,364.8 L223.4,350.6 L225.3,336.4 L227.5,329.4 L229.8,325.8 L231.7,321.1 L235.3,318.7 L236.9,331.7 L238.3,345.9 L240.0,332.9 L242.4,345.9 L244.7,336.4 L247.1,325.8 L248.8,322.3 L250.2,312.8 L251.8,328.2 L254.2,337.6 L256.6,343.6 L258.2,330.6 L259.6,327.0 L261.3,337.6 L262.9,348.3 L264.4,331.7 L266.0,321.1 L267.6,325.8 L269.6,341.2 L271.4,357.7 L273.1,350.6 L275.4,342.4 L277.8,340.0 L279.5,350.6 L281.8,362.4 L283.7,367.6 L286.1,363.6 L288.4,363.6 L290.8,360.1 L293.2,363.6 L295.6,362.4 L298.4,365.3 L300.3,353.0 L302.6,350.2 L304.7,341.1 L306.6,331.6 L308.3,319.8 L309.9,308.0 L311.8,305.2 L313.0,317.4 L314.2,324.6 L316.1,315.1 L318.4,309.2 L320.1,298.6 L321.3,287.9 L322.9,286.7 L324.4,293.8 L326.0,277.3 L327.2,259.6 L328.4,257.9 L330.2,253.6 L332.4,245.4 L333.6,252.4 L335.0,263.1 L336.6,265.9 L339.0,266.6 L340.6,261.2 L342.6,269.0 L343.7,279.6 L344.9,293.8 L346.6,310.4 L348.4,315.1 L349.6,324.6 L351.5,329.3 L353.9,332.1 L355.6,326.9 L357.2,318.6 L359.1,316.3 L360.3,326.9 L361.4,334.0 L361.6,328.7 L362.6,338.9 L363.6,349.1 L364.8,358.6 L366.2,363.7 L367.7,363.0 L368.9,358.6 L370.6,356.4 L372.1,351.3 L373.2,343.3 L374.2,337.5 L375.3,341.9 L376.4,345.9 L378.2,344.8 L379.6,342.6 L381.1,344.0 L382.3,337.5 L383.4,328.7 L384.6,317.4 L386.3,311.6 L387.9,317.4 L389.8,312.7 L392.2,309.9 L394.6,303.3 L396.4,295.0 L398.1,293.8 L399.8,283.2 L401.2,281.5 L402.8,292.6 L404.5,293.8 L406.4,300.9 L407.6,310.4 L408.7,331.6 L410.6,323.4 L412.3,319.4 L413.9,317.9 L415.8,331.6 L417.0,336.4 L418.2,324.6 L420.6,323.4 L422.4,322.0 L424.7,326.7 L427.1,327.9 L429.0,329.1 L429.9,317.3 L431.4,305.4 L433.0,299.6 L434.6,294.8 L436.6,292.4 L437.7,296.0 L439.4,288.4 L441.3,292.4 L443.2,301.9 L444.4,296.0 L445.5,279.4 L447.2,253.8 L448.8,240.8 L450.7,233.7 L453.1,230.2 L455.4,227.8 L457.4,229.0 L459.0,228.3 L461.4,229.7 L463.0,231.4 L464.9,226.6 L466.8,233.7 L468.4,240.8 L469.6,242.5 L471.5,234.9 L473.2,223.1 L474.8,216.0 L476.7,213.6 L479.1,216.5 L481.4,217.2 L483.4,213.6 L485.0,216.5 L487.4,213.6 L489.7,205.4 L492.1,200.6 L493.8,203.0 L496.1,201.8 L498.0,204.2 L500.4,205.4 L502.2,212.4 L503.9,218.4 L505.1,223.1 L506.3,232.6 L507.9,243.2 L509.8,249.1 L511.7,252.6 L513.4,258.6 L515.7,268.0 L518.1,281.0 L519.3,284.2 L521.6,296.0 L524.0,306.6 L526.4,309.0 L528.2,309.7 L529.9,305.4 L531.6,298.4 L533.5,291.3 L534.6,286.6 L535.3,280.0 L537.0,276.0 L539.5,279.0 L541.7,283.0 L544.0,279.0 L547.0,276.5 L549.5,279.0 L551.5,284.0 L553.0,288.4 L554.6,296.7 L556.5,303.8 L558.4,315.6 L560.1,325.1 L562.5,327.4 L564.8,329.8 L567.2,334.1 L568.8,334.1 L570.7,325.1 L572.6,318.0 L574.3,313.3 L575.9,316.8 L577.8,310.9 L579.0,305.0 L581.4,304.3 L582.5,305.0 L583.7,315.6 L585.4,327.4 L586.8,335.7 L588.5,329.8 L590.1,340.4 L592.0,344.0 L593.9,345.2 L595.5,342.8 L596.7,334.6 L597.9,318.0 L599.1,302.6 L600.3,295.6 L601.9,293.2 L603.8,296.7 L605.0,295.6 L606.6,293.2 L608.1,290.8 L609.0,282.6 L609.7,269.8 L610.9,255.6 L612.1,241.4 L613.8,233.2 L615.6,230.8 L618.0,230.3 L619.9,233.2 L621.5,241.4 L622.7,250.9 L624.6,248.6 L626.3,249.7 L627.9,248.6 L629.8,250.9 L631.0,243.8 L632.6,237.9 L634.1,236.7 L635.7,243.8 L636.9,250.9 L638.8,247.4 L640.5,232.0 L641.6,222.6 L643.5,211.9 L645.2,209.6 L647.5,208.8 L649.9,209.6 L651.1,217.8 L653.0,221.4 L654.6,232.0 L656.3,241.4 L657.7,249.7 L659.4,234.4 L661.0,223.7 L662.4,221.4 L664.1,227.3 L665.3,236.7 L667.2,243.8 L669.0,252.7 L670.6,257.4 L671.8,250.4 L673.7,236.2 L675.4,222.0 L677.0,211.4 L678.9,209.0 L681.3,206.6 L683.2,201.9 L684.8,216.1 L686.5,200.7 L688.4,198.8 L690.7,205.4 L692.6,198.4 L694.3,194.8 L696.6,197.2 L699.0,191.8 L700.6,196.0 L702.5,201.9 L704.4,206.6 L706.1,207.8 L707.8,210.7 L709.6,206.6 L711.5,205.4 L713.2,196.0 L714.8,193.6 L717.2,192.4 L718.6,200.7 L720.3,210.2 L721.9,212.6 L723.8,220.8 L725.0,222.0 L726.2,207.8 L727.4,205.4 L728.5,213.7 L730.4,200.7 L732.1,194.8 L733.8,205.4 L735.6,206.6 L737.5,205.4 L739.2,206.6 L740.8,199.6 L742.7,200.7 L744.6,204.3 L746.3,209.0 L747.5,205.4 L748.6,211.4 L751.0,212.6 L752.6,213.7 L754.5,217.3 L755.7,214.9 L756.9,231.4 L758.8,250.4 L760.5,262.2 L762.1,277.6 L764.0,279.2 L765.9,274.0 L767.5,263.4 L769.2,258.6 L771.1,252.7 L772.8,251.6 L773.9,264.6 L775.4,265.7 L777.0,250.4 L778.6,233.8 L780.1,230.3 L781.7,227.9 L782.9,217.3 L784.8,214.9 L786.9,214.6 L787.8,198.0 L789.2,193.3 L790.9,189.7 L792.6,187.4 L794.0,188.1 L795.6,195.6 L797.3,201.6 L799.2,203.9 L801.1,207.4 L802.7,214.6 L803.9,222.8 L805.8,233.4 L807.5,247.6 L808.6,248.8 L809.8,240.6 L811.5,228.7 L813.4,214.6 L814.5,212.2 L815.7,202.7 L816.9,216.9 L818.6,215.7 L820.5,216.9 L822.4,218.1 L824.0,220.4 L825.2,212.2 L827.1,208.6 L828.7,207.4 L829.9,205.1 L831.1,208.6 L832.8,200.4 L834.6,195.6 L836.5,194.4 L838.2,189.7 L839.8,185.0 L841.7,181.4 L843.6,177.9 L845.3,183.8 L846.9,183.3 L848.8,179.1 L850.0,180.3 L851.2,193.3 L853.1,199.2 L854.7,205.1 L855.9,209.8 L857.1,226.4 L857.8,240.6 L858.8,242.9 L860.6,238.2 L862.5,235.8 L864.2,237.0 L865.4,245.3 L866.5,261.8 L867.7,278.4 L869.6,287.8 L871.3,286.6 L872.9,283.1 L874.8,282.6 L876.7,279.6 L878.4,266.6 L879.5,252.4 L881.4,235.8 L883.1,226.4 L884.3,219.3 L886.2,222.8 L887.8,221.6 L889.5,222.8 L890.9,221.6 L891.8,231.1 L893.2,207.4 L894.9,209.8 L896.6,221.6 L898.5,233.4 L899.6,247.6 L900.4,261.8 L901.3,266.6 L903.2,268.4 L905.1,266.6 L906.0,252.4 L907.9,245.3 L909.8,233.4 L911.5,222.8 L913.1,218.1 L913.5,218.1 L915.9,214.6 L918.3,209.8 L919.9,200.4 L921.4,202.7 L923.0,207.4 L924.6,208.6 L926.5,205.1 L928.4,195.6 L930.1,194.4 L931.8,192.1 L933.6,188.6 L935.5,187.4 L937.2,190.9 L938.8,195.6 L940.2,194.4 L941.9,200.4 L943.6,203.9 L945.5,209.8 L947.4,212.2 L949.0,211.0 L950.6,209.8 L952.5,208.6 L953.7,213.4 L954.9,228.7 L956.1,234.6 L957.8,233.4 L959.2,228.7 L960.1,214.6 L961.5,200.4 L963.2,195.6 L964.8,192.1 L966.7,186.7 L967.9,188.6 L969.1,200.4 L971.0,208.6 L972.6,213.4 L974.3,211.0 L975.7,205.1 L977.4,203.9 L979.0,207.4 L980.4,208.6 L982.1,203.9 L983.8,200.4 L985.6,196.8 L987.5,195.6 L988.5,201.6 L989.9,209.8 L991.5,208.6 L993.2,209.3 L994.6,207.4 L996.3,211.0 L997.9,209.8 L999.8,212.2 L1001.0,218.1 L1002.2,231.1 L1003.4,229.9 L1004.5,225.2 L1006.4,222.8 L1008.1,215.7 L1009.8,216.9 L1011.2,222.8 L1012.8,233.4 L1014.0,245.3 L1015.2,252.4 L1016.8,258.3 L1018.2,250.0 L1019.9,241.7 L1021.6,242.9 L1023.5,247.6 L1025.3,252.4 L1027.0,255.9 L1028.7,253.6 L1030.1,265.4 L1031.0,266.6 L1032.0,252.4 L1032.9,233.4 L1034.1,219.3 L1035.3,207.4 L1037.2,203.2 L1039.5,212.2 L1040.6,226.4 L1041.8,235.8 L1043.0,232.3 L1044.2,225.2 L1046.1,228.7 L1047.7,230.6 L1049.4,233.9 L1051.3,231.1 L1052.5,235.8 L1054.8,237.0 L1057.2,238.2 L1058.8,240.6 L1060.2,237.0 L1061.9,229.9 L1063.6,228.2 L1065.0,234.6 L1065.9,245.3 L1067.3,252.4 L1069.0,260.6 L1070.7,266.6 L1071.4,270.0 L1073.0,273.6 L1074.4,279.4 L1076.1,286.1 L1077.8,281.8 L1079.6,283.0 L1081.5,287.7 L1083.2,291.3 L1084.8,293.6 L1086.0,306.6 L1087.9,304.3 L1089.6,305.4 L1091.0,307.4 L1092.6,294.8 L1094.3,291.3 L1096.2,284.2 L1097.8,281.8 L1099.0,288.9 L1100.4,298.4 L1102.1,310.2 L1103.8,313.7 L1105.2,304.3 L1106.1,317.3 L1107.0,332.6 L1108.5,334.3 L1110.4,336.2 L1111.8,339.7 L1113.2,333.8 L1114.6,329.1 L1116.3,331.0 L1117.9,329.1 L1119.3,338.1 L1120.5,330.3 L1122.2,336.2 L1123.6,339.0 L1125.0,338.6 L1126.0,326.7 L1127.4,317.3 L1129.3,312.6 L1131.2,310.2 L1132.8,311.4 L1134.5,315.4 L1134.5,388.5 L58.5,388.5 Z" fill="url(#gt)" clip-path="url(#cb)"/>
<path d="M58.5,351.1 L61.8,362.4 L65.4,377.1 L67.7,374.3 L70.1,373.1 L73.2,378.5 L76.0,376.2 L77.9,375.4 L79.5,364.8 L80.2,345.9 L83.1,342.4 L85.9,338.8 L89.0,348.3 L91.4,331.7 L93.2,331.7 L94.9,353.0 L97.3,374.3 L100.1,383.2 L103.2,375.4 L105.5,372.4 L106.7,377.8 L107.9,353.0 L110.3,352.5 L111.9,369.6 L115.0,383.7 L118.5,386.6 L120.2,383.7 L121.6,369.6 L124.5,366.7 L126.1,369.6 L127.5,375.4 L129.2,367.2 L131.6,348.3 L133.2,334.1 L134.6,329.8 L136.3,345.9 L139.3,364.8 L141.0,345.9 L142.7,331.7 L145.7,330.6 L146.9,314.0 L149.3,310.4 L151.6,297.4 L153.5,295.1 L155.7,284.0 L157.6,284.4 L159.9,283.3 L162.3,289.2 L164.6,308.1 L167.0,318.7 L168.7,318.0 L170.6,341.2 L172.9,350.6 L175.3,368.4 L177.6,373.8 L180.2,371.9 L182.1,364.8 L184.0,350.6 L185.6,343.1 L187.3,345.9 L188.7,360.1 L191.1,370.7 L194.4,370.7 L196.8,379.0 L199.8,382.6 L203.8,385.6 L206.2,379.0 L208.1,369.6 L210.0,369.6 L211.6,376.6 L214.0,380.2 L216.4,383.7 L218.7,375.4 L221.1,364.8 L223.4,350.6 L225.3,336.4 L227.5,329.4 L229.8,325.8 L231.7,321.1 L235.3,318.7 L236.9,331.7 L238.3,345.9 L240.0,332.9 L242.4,345.9 L244.7,336.4 L247.1,325.8 L248.8,322.3 L250.2,312.8 L251.8,328.2 L254.2,337.6 L256.6,343.6 L258.2,330.6 L259.6,327.0 L261.3,337.6 L262.9,348.3 L264.4,331.7 L266.0,321.1 L267.6,325.8 L269.6,341.2 L271.4,357.7 L273.1,350.6 L275.4,342.4 L277.8,340.0 L279.5,350.6 L281.8,362.4 L283.7,367.6 L286.1,363.6 L288.4,363.6 L290.8,360.1 L293.2,363.6 L295.6,362.4 L298.4,365.3 L300.3,353.0 L302.6,350.2 L304.7,341.1 L306.6,331.6 L308.3,319.8 L309.9,308.0 L311.8,305.2 L313.0,317.4 L314.2,324.6 L316.1,315.1 L318.4,309.2 L320.1,298.6 L321.3,287.9 L322.9,286.7 L324.4,293.8 L326.0,277.3 L327.2,259.6 L328.4,257.9 L330.2,253.6 L332.4,245.4 L333.6,252.4 L335.0,263.1 L336.6,265.9 L339.0,266.6 L340.6,261.2 L342.6,269.0 L343.7,279.6 L344.9,293.8 L346.6,310.4 L348.4,315.1 L349.6,324.6 L351.5,329.3 L353.9,332.1 L355.6,326.9 L357.2,318.6 L359.1,316.3 L360.3,326.9 L361.4,334.0 L361.6,328.7 L362.6,338.9 L363.6,349.1 L364.8,358.6 L366.2,363.7 L367.7,363.0 L368.9,358.6 L370.6,356.4 L372.1,351.3 L373.2,343.3 L374.2,337.5 L375.3,341.9 L376.4,345.9 L378.2,344.8 L379.6,342.6 L381.1,344.0 L382.3,337.5 L383.4,328.7 L384.6,317.4 L386.3,311.6 L387.9,317.4 L389.8,312.7 L392.2,309.9 L394.6,303.3 L396.4,295.0 L398.1,293.8 L399.8,283.2 L401.2,281.5 L402.8,292.6 L404.5,293.8 L406.4,300.9 L407.6,310.4 L408.7,331.6 L410.6,323.4 L412.3,319.4 L413.9,317.9 L415.8,331.6 L417.0,336.4 L418.2,324.6 L420.6,323.4 L422.4,322.0 L424.7,326.7 L427.1,327.9 L429.0,329.1 L429.9,317.3 L431.4,305.4 L433.0,299.6 L434.6,294.8 L436.6,292.4 L437.7,296.0 L439.4,288.4 L441.3,292.4 L443.2,301.9 L444.4,296.0 L445.5,279.4 L447.2,253.8 L448.8,240.8 L450.7,233.7 L453.1,230.2 L455.4,227.8 L457.4,229.0 L459.0,228.3 L461.4,229.7 L463.0,231.4 L464.9,226.6 L466.8,233.7 L468.4,240.8 L469.6,242.5 L471.5,234.9 L473.2,223.1 L474.8,216.0 L476.7,213.6 L479.1,216.5 L481.4,217.2 L483.4,213.6 L485.0,216.5 L487.4,213.6 L489.7,205.4 L492.1,200.6 L493.8,203.0 L496.1,201.8 L498.0,204.2 L500.4,205.4 L502.2,212.4 L503.9,218.4 L505.1,223.1 L506.3,232.6 L507.9,243.2 L509.8,249.1 L511.7,252.6 L513.4,258.6 L515.7,268.0 L518.1,281.0 L519.3,284.2 L521.6,296.0 L524.0,306.6 L526.4,309.0 L528.2,309.7 L529.9,305.4 L531.6,298.4 L533.5,291.3 L534.6,286.6 L535.3,280.0 L537.0,276.0 L539.5,279.0 L541.7,283.0 L544.0,279.0 L547.0,276.5 L549.5,279.0 L551.5,284.0 L553.0,288.4 L554.6,296.7 L556.5,303.8 L558.4,315.6 L560.1,325.1 L562.5,327.4 L564.8,329.8 L567.2,334.1 L568.8,334.1 L570.7,325.1 L572.6,318.0 L574.3,313.3 L575.9,316.8 L577.8,310.9 L579.0,305.0 L581.4,304.3 L582.5,305.0 L583.7,315.6 L585.4,327.4 L586.8,335.7 L588.5,329.8 L590.1,340.4 L592.0,344.0 L593.9,345.2 L595.5,342.8 L596.7,334.6 L597.9,318.0 L599.1,302.6 L600.3,295.6 L601.9,293.2 L603.8,296.7 L605.0,295.6 L606.6,293.2 L608.1,290.8 L609.0,282.6 L609.7,269.8 L610.9,255.6 L612.1,241.4 L613.8,233.2 L615.6,230.8 L618.0,230.3 L619.9,233.2 L621.5,241.4 L622.7,250.9 L624.6,248.6 L626.3,249.7 L627.9,248.6 L629.8,250.9 L631.0,243.8 L632.6,237.9 L634.1,236.7 L635.7,243.8 L636.9,250.9 L638.8,247.4 L640.5,232.0 L641.6,222.6 L643.5,211.9 L645.2,209.6 L647.5,208.8 L649.9,209.6 L651.1,217.8 L653.0,221.4 L654.6,232.0 L656.3,241.4 L657.7,249.7 L659.4,234.4 L661.0,223.7 L662.4,221.4 L664.1,227.3 L665.3,236.7 L667.2,243.8 L669.0,252.7 L670.6,257.4 L671.8,250.4 L673.7,236.2 L675.4,222.0 L677.0,211.4 L678.9,209.0 L681.3,206.6 L683.2,201.9 L684.8,216.1 L686.5,200.7 L688.4,198.8 L690.7,205.4 L692.6,198.4 L694.3,194.8 L696.6,197.2 L699.0,191.8 L700.6,196.0 L702.5,201.9 L704.4,206.6 L706.1,207.8 L707.8,210.7 L709.6,206.6 L711.5,205.4 L713.2,196.0 L714.8,193.6 L717.2,192.4 L718.6,200.7 L720.3,210.2 L721.9,212.6 L723.8,220.8 L725.0,222.0 L726.2,207.8 L727.4,205.4 L728.5,213.7 L730.4,200.7 L732.1,194.8 L733.8,205.4 L735.6,206.6 L737.5,205.4 L739.2,206.6 L740.8,199.6 L742.7,200.7 L744.6,204.3 L746.3,209.0 L747.5,205.4 L748.6,211.4 L751.0,212.6 L752.6,213.7 L754.5,217.3 L755.7,214.9 L756.9,231.4 L758.8,250.4 L760.5,262.2 L762.1,277.6 L764.0,279.2 L765.9,274.0 L767.5,263.4 L769.2,258.6 L771.1,252.7 L772.8,251.6 L773.9,264.6 L775.4,265.7 L777.0,250.4 L778.6,233.8 L780.1,230.3 L781.7,227.9 L782.9,217.3 L784.8,214.9 L786.9,214.6 L787.8,198.0 L789.2,193.3 L790.9,189.7 L792.6,187.4 L794.0,188.1 L795.6,195.6 L797.3,201.6 L799.2,203.9 L801.1,207.4 L802.7,214.6 L803.9,222.8 L805.8,233.4 L807.5,247.6 L808.6,248.8 L809.8,240.6 L811.5,228.7 L813.4,214.6 L814.5,212.2 L815.7,202.7 L816.9,216.9 L818.6,215.7 L820.5,216.9 L822.4,218.1 L824.0,220.4 L825.2,212.2 L827.1,208.6 L828.7,207.4 L829.9,205.1 L831.1,208.6 L832.8,200.4 L834.6,195.6 L836.5,194.4 L838.2,189.7 L839.8,185.0 L841.7,181.4 L843.6,177.9 L845.3,183.8 L846.9,183.3 L848.8,179.1 L850.0,180.3 L851.2,193.3 L853.1,199.2 L854.7,205.1 L855.9,209.8 L857.1,226.4 L857.8,240.6 L858.8,242.9 L860.6,238.2 L862.5,235.8 L864.2,237.0 L865.4,245.3 L866.5,261.8 L867.7,278.4 L869.6,287.8 L871.3,286.6 L872.9,283.1 L874.8,282.6 L876.7,279.6 L878.4,266.6 L879.5,252.4 L881.4,235.8 L883.1,226.4 L884.3,219.3 L886.2,222.8 L887.8,221.6 L889.5,222.8 L890.9,221.6 L891.8,231.1 L893.2,207.4 L894.9,209.8 L896.6,221.6 L898.5,233.4 L899.6,247.6 L900.4,261.8 L901.3,266.6 L903.2,268.4 L905.1,266.6 L906.0,252.4 L907.9,245.3 L909.8,233.4 L911.5,222.8 L913.1,218.1 L913.5,218.1 L915.9,214.6 L918.3,209.8 L919.9,200.4 L921.4,202.7 L923.0,207.4 L924.6,208.6 L926.5,205.1 L928.4,195.6 L930.1,194.4 L931.8,192.1 L933.6,188.6 L935.5,187.4 L937.2,190.9 L938.8,195.6 L940.2,194.4 L941.9,200.4 L943.6,203.9 L945.5,209.8 L947.4,212.2 L949.0,211.0 L950.6,209.8 L952.5,208.6 L953.7,213.4 L954.9,228.7 L956.1,234.6 L957.8,233.4 L959.2,228.7 L960.1,214.6 L961.5,200.4 L963.2,195.6 L964.8,192.1 L966.7,186.7 L967.9,188.6 L969.1,200.4 L971.0,208.6 L972.6,213.4 L974.3,211.0 L975.7,205.1 L977.4,203.9 L979.0,207.4 L980.4,208.6 L982.1,203.9 L983.8,200.4 L985.6,196.8 L987.5,195.6 L988.5,201.6 L989.9,209.8 L991.5,208.6 L993.2,209.3 L994.6,207.4 L996.3,211.0 L997.9,209.8 L999.8,212.2 L1001.0,218.1 L1002.2,231.1 L1003.4,229.9 L1004.5,225.2 L1006.4,222.8 L1008.1,215.7 L1009.8,216.9 L1011.2,222.8 L1012.8,233.4 L1014.0,245.3 L1015.2,252.4 L1016.8,258.3 L1018.2,250.0 L1019.9,241.7 L1021.6,242.9 L1023.5,247.6 L1025.3,252.4 L1027.0,255.9 L1028.7,253.6 L1030.1,265.4 L1031.0,266.6 L1032.0,252.4 L1032.9,233.4 L1034.1,219.3 L1035.3,207.4 L1037.2,203.2 L1039.5,212.2 L1040.6,226.4 L1041.8,235.8 L1043.0,232.3 L1044.2,225.2 L1046.1,228.7 L1047.7,230.6 L1049.4,233.9 L1051.3,231.1 L1052.5,235.8 L1054.8,237.0 L1057.2,238.2 L1058.8,240.6 L1060.2,237.0 L1061.9,229.9 L1063.6,228.2 L1065.0,234.6 L1065.9,245.3 L1067.3,252.4 L1069.0,260.6 L1070.7,266.6 L1071.4,270.0 L1073.0,273.6 L1074.4,279.4 L1076.1,286.1 L1077.8,281.8 L1079.6,283.0 L1081.5,287.7 L1083.2,291.3 L1084.8,293.6 L1086.0,306.6 L1087.9,304.3 L1089.6,305.4 L1091.0,307.4 L1092.6,294.8 L1094.3,291.3 L1096.2,284.2 L1097.8,281.8 L1099.0,288.9 L1100.4,298.4 L1102.1,310.2 L1103.8,313.7 L1105.2,304.3 L1106.1,317.3 L1107.0,332.6 L1108.5,334.3 L1110.4,336.2 L1111.8,339.7 L1113.2,333.8 L1114.6,329.1 L1116.3,331.0 L1117.9,329.1 L1119.3,338.1 L1120.5,330.3 L1122.2,336.2 L1123.6,339.0 L1125.0,338.6 L1126.0,326.7 L1127.4,317.3 L1129.3,312.6 L1131.2,310.2 L1132.8,311.4 L1134.5,315.4" fill="none" stroke="rgb(184,131,60)" stroke-width="2.75" stroke-linejoin="round" stroke-linecap="round"/>
</g>
<g font-family="'Liberation Sans', Arial, sans-serif" font-size="11" fill="#666" text-rendering="geometricPrecision">
<text x="48.6" y="175.4" text-anchor="end">90</text>
<text x="48.6" y="202.5" text-anchor="end">80</text>
<text x="48.6" y="229.7" text-anchor="end">70</text>
<text x="48.6" y="256.8" text-anchor="end">60</text>
<text x="48.6" y="283.9" text-anchor="end">50</text>
<text x="48.6" y="311.0" text-anchor="end">40</text>
<text x="48.6" y="338.1" text-anchor="end">30</text>
<text x="48.6" y="365.3" text-anchor="end">20</text>
<text x="48.6" y="392.4" text-anchor="end">10</text>
<text x="1143.6" y="175.4">650</text>
<text x="1143.6" y="206.4">600</text>
<text x="1143.6" y="237.4">550</text>
<text x="1143.6" y="268.4">500</text>
<text x="1143.6" y="299.4">450</text>
<text x="1143.6" y="330.4">400</text>
<text x="1143.6" y="361.4">350</text>
<text x="1143.6" y="392.4">300</text>
<text x="295.5" y="408" text-anchor="middle">2023</text>
<text x="655.5" y="408" text-anchor="middle">2024</text>
<text x="1015.5" y="408" text-anchor="middle">2025</text>
<text transform="translate(28.3,280) rotate(-90)" text-anchor="middle">Market Sentiment Index</text>
<text transform="translate(1170.8,280) rotate(90)" text-anchor="middle">SPY Price</text>
<rect x="471.25" y="152.2" width="36.6" height="11" fill="rgb(184,131,60)" fill-opacity="0.4" stroke="rgb(184,131,60)" stroke-width="2.75"/>
<text x="513.6" y="161.4" textLength="114.6" lengthAdjust="spacingAndGlyphs">Market Sentiment Index</text>
<rect x="637.3" y="152.2" width="36.6" height="11" fill="rgb(62,125,234)" fill-opacity="0.4" stroke="rgb(62,125,234)" stroke-width="2.75"/>
<text x="678.8" y="161.4" textLength="48.2" lengthAdjust="spacingAndGlyphs">SPY Price</text>
</g>
<g font-family="'Liberation Sans', Arial, sans-serif" font-size="11" fill="#fff" text-rendering="geometricPrecision">
<path d="M497,232H662a6,6 0 0 1 6,6V283a6,6 0 0 1 -6,6H497a6,6 0 0 1 -6,-6V265.4L486.4,260.8L491,256.2V238a6,6 0 0 1 6,-6Z" fill="#000" fill-opacity="0.8"/>
<text x="496" y="247.7" font-weight="bold">2023-07-11</text>
<rect x="495.5" y="256.6" width="11.4" height="11.4" fill="#fff"/><rect x="496" y="257.1" width="10.4" height="10.4" fill="rgb(184,131,60)" fill-opacity="0.25" stroke="rgb(184,131,60)" stroke-width="1"/>
<text x="508.4" y="265.3" textLength="154" lengthAdjust="spacingAndGlyphs">Market Sentiment Index: 74.265</text>
<rect x="495.5" y="271.6" width="11.4" height="11.4" fill="#fff"/><rect x="496" y="272.1" width="10.4" height="10.4" fill="rgb(62,125,234)" fill-opacity="0.25" stroke="rgb(62,125,234)" stroke-width="1"/>
<text x="508.4" y="280.3" textLength="92.9" lengthAdjust="spacingAndGlyphs">SPY Price: 432.263</text>
</g>
</svg>
<div class="abs tabs"></div>
<div class="abs active"></div>
<div class="abs tab" style="left:475.6px;top:458.8px;color:#71717a;">Current Sentiment</div>
<div class="abs tab" style="left:630.3px;top:458.8px;color:#18181b;">Historical Trend</div>
<div class="abs edge"></div>
</body>
</html>
